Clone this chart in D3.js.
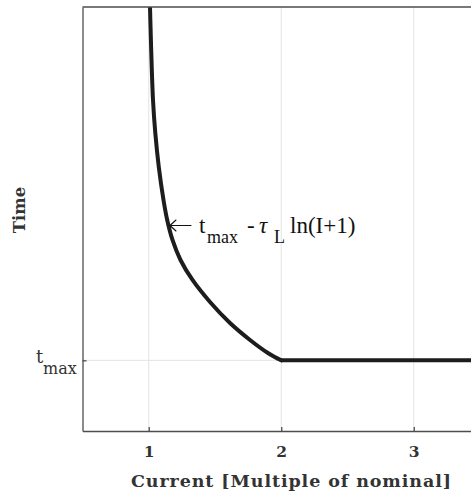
<!DOCTYPE html>
<html>
<head>
<meta charset="utf-8">
<script src="https://cdn.jsdelivr.net/npm/d3@7"></script>
<style>
  html, body { margin: 0; padding: 0; background: #fff; }
  svg { display: block; }
</style>
</head>
<body>
<svg id="chart" width="471" height="496"></svg>
<script>
// Trip-time characteristic: time versus current (multiple of nominal)
// Inverse-time branch, ending at I = 2 where it meets t_max
const curveCurrent = [1.0, 1.0094, 1.0185, 1.0321, 1.0494, 1.0758, 1.1113, 1.1392, 1.1792,
                      1.2396, 1.3302, 1.4623, 1.6132, 1.7642, 1.9023, 2.0];
const curveTime    = [6.62, 6.0, 5.392, 4.684, 4.217, 3.736, 3.269, 2.986, 2.703,
                      2.42, 2.137, 1.825, 1.528, 1.288, 1.10, 1.0];
// Constant branch at t_max
const flatCurrent = [2.0, 3.5];
const flatTime    = [1.0, 1.0];

const xTicks = [1, 2, 3];
const xTickLabels = ["1", "2", "3"];
const tMax = 1.0;

const svg = d3.select("#chart");
const plotLeft = 82.5, plotTop = 7, plotBottom = 431, plotRight = 480;

const x = d3.scaleLinear().domain([0.5, 3.5]).range([plotLeft, plotRight]);
const y = d3.scaleLinear().domain([0, 6]).range([plotBottom, plotTop]);

const axisColor = "#4d4d4d";
const gridColor = "#e3e3e3";
const textColor = "#333";

// clip region for the plot area
svg.append("defs").append("clipPath").attr("id", "plotClip")
  .append("rect").attr("x", plotLeft).attr("y", plotTop)
  .attr("width", plotRight - plotLeft).attr("height", plotBottom - plotTop);

// grid lines
const grid = svg.append("g");
grid.selectAll("line.gx").data(xTicks).join("line")
  .attr("x1", d => x(d)).attr("x2", d => x(d))
  .attr("y1", plotTop).attr("y2", plotBottom)
  .attr("stroke", gridColor).attr("stroke-width", 1);
grid.append("line")
  .attr("x1", plotLeft).attr("x2", plotRight)
  .attr("y1", y(tMax)).attr("y2", y(tMax))
  .attr("stroke", gridColor).attr("stroke-width", 1);

// curves
const plot = svg.append("g").attr("clip-path", "url(#plotClip)");
const smooth = d3.line()
  .x(i => x(curveCurrent[i]))
  .y(i => y(curveTime[i]))
  .curve(d3.curveCatmullRom.alpha(0.5));
const straight = d3.line()
  .x(i => x(flatCurrent[i]))
  .y(i => y(flatTime[i]));
plot.append("path")
  .attr("d", smooth(d3.range(curveCurrent.length)))
  .attr("fill", "none").attr("stroke", "#1e1c1d").attr("stroke-width", 4)
  .attr("stroke-linejoin", "round").attr("stroke-linecap", "round");
plot.append("path")
  .attr("d", straight(d3.range(flatCurrent.length)))
  .attr("fill", "none").attr("stroke", "#1e1c1d").attr("stroke-width", 4)
  .attr("stroke-linecap", "round");

// axes (box on left, top, bottom)
const xAxis = d3.axisBottom(x).tickValues(xTicks).tickFormat((d, i) => xTickLabels[i])
  .tickSizeInner(-4).tickSizeOuter(0).tickPadding(15);
const gx = svg.append("g").attr("transform", `translate(0,${plotBottom})`).call(xAxis);
gx.select(".domain").attr("stroke", axisColor).attr("stroke-width", 1.3);
gx.selectAll(".tick line").attr("stroke", axisColor).attr("stroke-width", 1.3);
gx.selectAll(".tick text")
  .attr("fill", textColor)
  .style("font-family", "'DejaVu Serif', serif")
  .style("font-weight", "bold")
  .style("font-size", "15.5px");

const yAxis = d3.axisLeft(y).tickValues([tMax]).tickFormat(() => "")
  .tickSizeInner(-4).tickSizeOuter(0);
const gy = svg.append("g").attr("transform", `translate(${plotLeft},0)`).call(yAxis);
gy.select(".domain").attr("stroke", axisColor).attr("stroke-width", 1.3);
gy.selectAll(".tick line").attr("stroke", axisColor).attr("stroke-width", 1.3);

svg.append("line")
  .attr("x1", plotLeft).attr("x2", plotRight).attr("y1", plotTop).attr("y2", plotTop)
  .attr("stroke", axisColor).attr("stroke-width", 1.3);

// y tick label: t_max
const ytl = svg.append("text")
  .attr("fill", textColor)
  .style("font-family", "'DejaVu Serif', serif")
  .style("font-size", "18px");
ytl.append("tspan").attr("x", 36).attr("y", y(tMax) + 3).text("t");
ytl.append("tspan").attr("x", 43).attr("y", y(tMax) + 14).style("font-size", "16px").text("max");

// axis titles
svg.append("text")
  .attr("x", 131).attr("y", 487)
  .attr("textLength", 320).attr("lengthAdjust", "spacing")
  .attr("fill", textColor)
  .style("font-family", "'DejaVu Serif', serif")
  .style("font-weight", "bold")
  .style("font-size", "17.5px")
  .text("Current [Multiple of nominal]");

svg.append("text")
  .attr("transform", "translate(25,210) rotate(-90)")
  .attr("text-anchor", "middle")
  .attr("fill", textColor)
  .style("font-family", "'DejaVu Serif', serif")
  .style("font-weight", "bold")
  .style("font-size", "16.5px")
  .text("Time");

// annotation pointing at the curve: open arrow followed by the formula
const arrowY = 225.5, arrowTip = 170, arrowTail = 191;
const arrow = svg.append("g")
  .attr("fill", "none").attr("stroke", "#111").attr("stroke-width", 1.1)
  .attr("stroke-linecap", "round").attr("stroke-linejoin", "round");
arrow.append("line")
  .attr("x1", arrowTip).attr("x2", arrowTail).attr("y1", arrowY).attr("y2", arrowY);
arrow.append("path")
  .attr("d", `M${arrowTip + 6},${arrowY - 5.5} L${arrowTip},${arrowY} L${arrowTip + 6},${arrowY + 5.5}`);

const ann = svg.append("text")
  .attr("fill", "#111")
  .style("font-family", "'Liberation Serif', 'Times New Roman', serif")
  .style("font-size", "23px");
ann.append("tspan").attr("x", 199).attr("y", 233).text("t");
ann.append("tspan").attr("x", 207).attr("y", 243).style("font-size", "18px").text("max");
ann.append("tspan").attr("x", 247).attr("y", 233).text("-");
ann.append("tspan").attr("x", 259).attr("y", 233).style("font-style", "italic").text("\u03c4");
ann.append("tspan").attr("x", 274).attr("y", 243).style("font-size", "18px").text("L");
ann.append("tspan").attr("x", 290).attr("y", 233).text("ln(I+1)");
</script>
</body>
</html>
